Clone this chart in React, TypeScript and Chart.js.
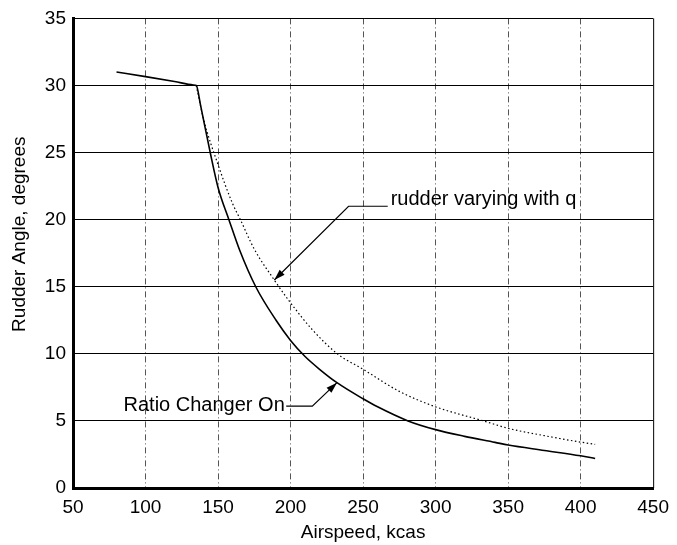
import React, { useEffect, useRef } from "react";
import { Chart, registerables } from "chart.js";

Chart.register(...registerables);

// Ratio Changer On (solid)
const solidX = [80, 100, 120, 133, 135, 138, 145, 150, 157.5, 165, 176, 190, 200, 210, 220, 232, 250, 260, 281, 300, 320, 341, 350, 375, 400, 410];
const solidY = [31, 30.66, 30.3, 30.04, 30, 28.5, 24.8, 22.4, 20, 17.7, 15, 12.5, 11.0, 9.8, 8.85, 7.85, 6.65, 6.05, 5.0, 4.35, 3.85, 3.4, 3.2, 2.8, 2.4, 2.2];

// rudder varying with q (dotted)
const qX = [135, 140, 150, 160, 165.4, 175, 188.8, 200, 215, 232.3, 250, 275, 300, 333, 350, 375, 400, 410];
const qY = [30, 27.5, 24.1, 21.2, 20, 17.8, 15.5, 13.8, 11.8, 10, 8.85, 7.2, 6.05, 5.0, 4.45, 3.9, 3.42, 3.25];

const xTitle = "Airspeed, kcas";
const yTitle = "Rudder Angle, degrees";

// annotations in data units
const rudderLabel = { text: "rudder varying with q", x: 269, y: 21.5 };
const rudderLeader = [[267, 21.0], [240, 21.0], [188.8, 15.5]];
const ratioLabel = { text: "Ratio Changer On", x: 196, y: 6.15 };
const ratioLeader = [[197, 6.1], [215, 6.1], [232, 7.85]];

const FONT = "'Liberation Sans', Arial, Helvetica, sans-serif";

function toPts(xs: number[], ys: number[]) {
  return xs.map((x, i) => ({ x, y: ys[i] }));
}

const annotPlugin = {
  id: "annot",
  afterDraw(chart: any) {
    const { ctx, chartArea, scales } = chart;
    const xs = scales.x;
    const ys = scales.y;
    ctx.save();
    // right frame line
    ctx.strokeStyle = "#000";
    ctx.lineWidth = 1;
    ctx.beginPath();
    ctx.moveTo(chartArea.right + 0.5, chartArea.top);
    ctx.lineTo(chartArea.right + 0.5, chartArea.bottom);
    ctx.stroke();

    const drawLeader = (pts: number[][]) => {
      const p = pts.map(([a, b]) => [xs.getPixelForValue(a), ys.getPixelForValue(b)]);
      ctx.strokeStyle = "#000";
      ctx.lineWidth = 1.2;
      ctx.beginPath();
      ctx.moveTo(p[0][0], p[0][1]);
      for (let i = 1; i < p.length; i++) ctx.lineTo(p[i][0], p[i][1]);
      ctx.stroke();
      const [tx, ty] = p[p.length - 1];
      const [fx, fy] = p[p.length - 2];
      const ang = Math.atan2(ty - fy, tx - fx);
      const len = 11;
      const w = 3.5;
      ctx.fillStyle = "#000";
      ctx.beginPath();
      ctx.moveTo(tx, ty);
      ctx.lineTo(tx - len * Math.cos(ang) + w * Math.sin(ang), ty - len * Math.sin(ang) - w * Math.cos(ang));
      ctx.lineTo(tx - len * Math.cos(ang) - w * Math.sin(ang), ty - len * Math.sin(ang) + w * Math.cos(ang));
      ctx.closePath();
      ctx.fill();
    };
    drawLeader(rudderLeader);
    drawLeader(ratioLeader);

    ctx.fillStyle = "#000";
    ctx.font = `20px ${FONT}`;
    ctx.textBaseline = "middle";
    ctx.textAlign = "left";
    ctx.fillText(rudderLabel.text, xs.getPixelForValue(rudderLabel.x), ys.getPixelForValue(rudderLabel.y));
    ctx.textAlign = "right";
    ctx.fillText(ratioLabel.text, xs.getPixelForValue(ratioLabel.x), ys.getPixelForValue(ratioLabel.y));

    // axis titles
    ctx.font = `19px ${FONT}`;
    ctx.textAlign = "center";
    ctx.fillText(xTitle, (chartArea.left + chartArea.right) / 2, chartArea.bottom + 45);
    ctx.translate(chartArea.left - 53, (chartArea.top + chartArea.bottom) / 2 - 19);
    ctx.rotate(-Math.PI / 2);
    ctx.fillText(yTitle, 0, 0);
    ctx.restore();
  },
};

export default function App() {
  const ref = useRef<HTMLCanvasElement | null>(null);
  useEffect(() => {
    if (!ref.current) return;
    const chart = new Chart(ref.current, {
      type: "line",
      data: {
        datasets: [
          {
            label: "Ratio Changer On",
            data: toPts(solidX, solidY),
            borderColor: "#000",
            borderWidth: 1.6,
            pointRadius: 0,
            cubicInterpolationMode: "monotone",
            fill: false,
          },
          {
            label: "rudder varying with q",
            data: toPts(qX, qY),
            borderColor: "#000",
            borderWidth: 1.2,
            borderDash: [1.5, 2.5],
            pointRadius: 0,
            cubicInterpolationMode: "monotone",
            fill: false,
          },
        ],
      },
      options: {
        responsive: false,
        animation: false,
        layout: { padding: { top: 13, right: 18, left: 0, bottom: 0 } },
        plugins: { legend: { display: false }, tooltip: { enabled: false } },
        scales: {
          x: {
            type: "linear",
            min: 50,
            max: 450,
            afterFit: (s: any) => { s.height = 57; },
            ticks: { stepSize: 50, color: "#000", font: { family: FONT, size: 19 }, padding: 8, maxRotation: 0 },
            grid: {
              drawTicks: false,
              color: (c: any) => (c.tick && (c.tick.value === 450 || c.tick.value === 50) ? "rgba(0,0,0,0)" : "#555"),
              lineWidth: 1,
            },
            border: { display: true, color: "#000", width: 3, dash: [6, 3, 1, 3] },
            title: { display: false },
          },
          y: {
            type: "linear",
            min: 0,
            max: 35,
            afterFit: (s: any) => { s.width = 73; },
            ticks: { stepSize: 5, color: "#000", font: { family: FONT, size: 19 }, padding: 7 },
            grid: { drawTicks: false, color: "#000", lineWidth: 1 },
            border: { display: true, color: "#000", width: 3 },
            title: { display: false },
          },
        },
      },
      plugins: [annotPlugin],
    });
    return () => chart.destroy();
  }, []);
  return (
    <div style={{ position: "fixed", left: 0, top: 0, width: 677, height: 545, background: "#fff" }}>
      <canvas ref={ref} width={677} height={545} style={{ display: "block", width: 677, height: 545 }} />
    </div>
  );
}
